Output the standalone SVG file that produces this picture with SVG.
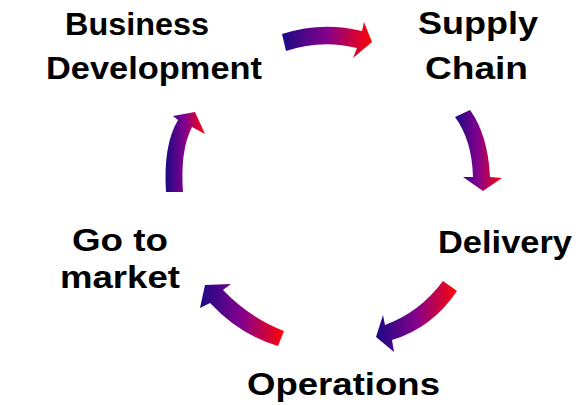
<svg xmlns="http://www.w3.org/2000/svg" width="580" height="405" viewBox="0 0 580 405">
  <defs>
    <linearGradient id="grad" x1="0" y1="0" x2="1" y2="0">
      <stop offset="0" stop-color="#1a0a86"/>
      <stop offset="0.5" stop-color="#85008c"/>
      <stop offset="1" stop-color="#ff0505"/>
    </linearGradient>
    <style>
      .lbl { font-family: "Liberation Sans", Arial, sans-serif; font-weight: bold; font-size: 31px; fill: #000; }
      .arr { fill: url(#grad); stroke: none; }
    </style>
  </defs>
  <rect width="580" height="405" fill="#fff"/>
  <g id="connectors">
    <path class="arr" d="M282,34 Q322,21 362,31 L364,22 L372,42 L353,58 L357,48 Q321,39 286,51 Z"/>
    <path class="arr" d="M455,117 L470,110 Q488,135 490,177 L502,178 L483,191 L463,177 L473,177 Q472,140 455,117 Z"/>
    <path class="arr" d="M443,281 L457,291 Q432,328 392,340 L394,352 L376,337 L383,315 L385,325 Q420,312 443,281 Z"/>
    <path class="arr" d="M284,331 Q250,318 223,290 L231,284 L205,285 L200,308 L210,303 Q240,335 278,346 Z"/>
    <path class="arr" d="M166,192 Q163,145 178,120 L173,116 L195,112 L205,134 L192,127 Q180,150 183,192 Z"/>
  </g>
  <g id="business-development">
    <text class="lbl" x="65" y="35" textLength="144" lengthAdjust="spacingAndGlyphs">Business</text>
    <text class="lbl" x="46" y="79" textLength="216" lengthAdjust="spacingAndGlyphs">Development</text>
  </g>
  <g id="supply-chain">
    <text class="lbl" x="418" y="34" textLength="120" lengthAdjust="spacingAndGlyphs">Supply</text>
    <text class="lbl" x="425" y="79" textLength="103" lengthAdjust="spacingAndGlyphs">Chain</text>
  </g>
  <g id="delivery">
    <text class="lbl" x="438" y="253" textLength="134" lengthAdjust="spacingAndGlyphs">Delivery</text>
  </g>
  <g id="operations">
    <text class="lbl" x="247" y="395" textLength="193" lengthAdjust="spacingAndGlyphs">Operations</text>
  </g>
  <g id="go-to-market">
    <text class="lbl" x="72" y="251" textLength="96" lengthAdjust="spacingAndGlyphs">Go to</text>
    <text class="lbl" x="60" y="288" textLength="120" lengthAdjust="spacingAndGlyphs">market</text>
  </g>
</svg>
